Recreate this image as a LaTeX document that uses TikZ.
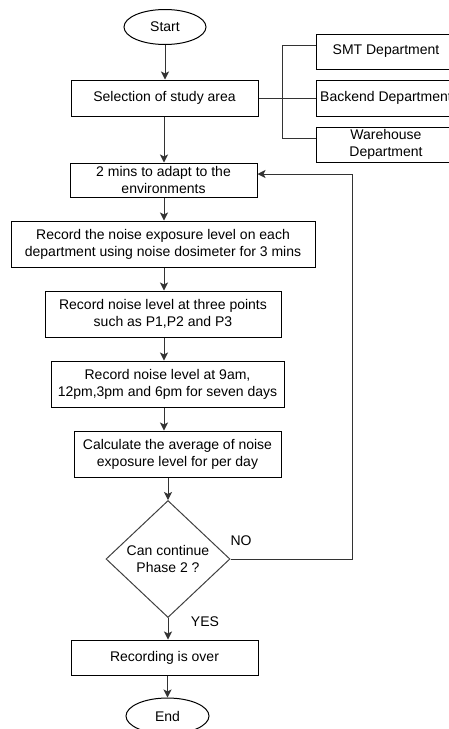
\documentclass[tikz,border=0pt]{standalone}
\usepackage{fontspec}
\setmainfont{Liberation Sans}
\usetikzlibrary{shapes.geometric,arrows.meta,calc}
\begin{document}
\begin{tikzpicture}[x=1pt,y=-1pt,
  every node/.style={font=\fontsize{14}{17}\selectfont, text=black},
  box/.style={draw=black, line width=1pt, rectangle, inner sep=0pt, align=center},
  term/.style={draw=black, line width=1pt, ellipse, inner sep=0pt},
  dec/.style={draw=black!75, line width=1pt, diamond, inner sep=0pt, align=center},
  conn/.style={draw=black!80, line width=1pt},
  arr/.style={conn, -{Stealth[length=8pt,width=8pt,inset=2pt]}},
  lbl/.style={inner sep=0pt}
]
\useasboundingbox (0,0) rectangle (448,729);
\node[term, minimum width=82pt, minimum height=35pt] (start) at (165,27) {Start};
\node[box, minimum width=187pt, minimum height=36pt] (sel) at (164.5,98) {Selection of study area};
\node[box, minimum width=140pt, minimum height=35pt] (smt) at (386,51.5) {SMT Department};
\node[box, minimum width=140pt, minimum height=36pt] (back) at (386,98) {Backend Department};
\node[box, minimum width=140pt, minimum height=35pt] (ware) at (386,144.5) {Warehouse\\Department};
\node[box, minimum width=187pt, minimum height=34pt] (adapt) at (163.5,180) {2 mins to adapt to the\\environments};
\node[box, minimum width=304pt, minimum height=46pt] (rec1) at (163,244) {Record the noise exposure level on each\\department using noise dosimeter for 3 mins};
\node[box, minimum width=236pt, minimum height=46pt] (rec2) at (163,314) {Record noise level at three points\\such as P1,P2 and P3};
\node[box, minimum width=233pt, minimum height=46pt] (rec3) at (167.5,384) {Record noise level at 9am,\\12pm,3pm and 6pm for seven days};
\node[box, minimum width=207pt, minimum height=46pt] (calc) at (177.5,454) {Calculate the average of noise\\exposure level for per day};
\node[dec, minimum width=124pt, minimum height=117pt] (dia) at (168,559) {Can continue\\Phase 2 ?};
\node[box, minimum width=187pt, minimum height=35pt] (over) at (164.5,657.5) {Recording is over};
\node[term, minimum width=83pt, minimum height=36pt] (end) at (167.5,716) {End};
\node[lbl] (no) at (241,541) {NO};
\node[lbl] (yes) at (205,622) {YES};
\coordinate (bx) at (282,98);
\coordinate (loop) at (352,559);
\coordinate (smtin) at ([yshift=6pt]smt.west);
\coordinate (warein) at ([yshift=6pt]ware.west);
% connectors
\draw[arr] (start) -- (start.south |- sel.north);
\draw[arr] (sel.south -| adapt.north) ++(0.5,0) -- ($(adapt.north)+(0.5,0)$);
\draw[arr] (adapt.south) ++(0.5,0) -- ($(rec1.north)+(1,0)$);
\draw[arr] (rec1.south) ++(1,0) -- ($(rec2.north)+(1,0)$);
\draw[arr] (rec2.south) ++(1,0) -- ($(rec3.north)+(-3.5,0)$);
\draw[arr] (rec3.south) ++(-3.5,0) -- ($(calc.north)+(-13.5,0)$);
\draw[arr] (dia.north |- calc.south) -- (dia.north);
\draw[arr] (dia.south) -- (dia.south |- over.north);
\draw[arr] (over.south -| end.north) -- (end.north);
\draw[arr] (dia.east) -| (loop) |- ([yshift=6pt]adapt.east);
% bracket
\draw[conn] (sel.east) -- (back.west);
\draw[conn] (smtin) -| (bx |- warein) -- (warein);
\end{tikzpicture}
\end{document}
